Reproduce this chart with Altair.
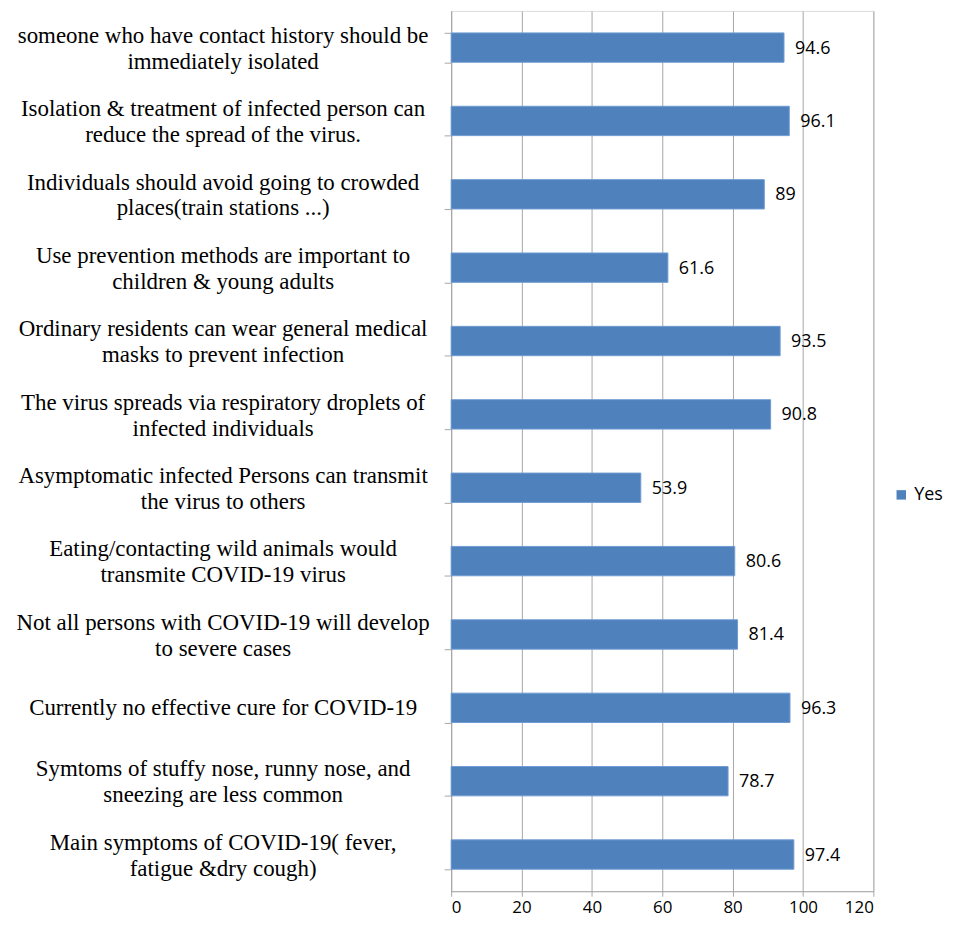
import altair as alt
import pandas as pd

categories = [
    "someone who have contact history should be|immediately isolated",
    "Isolation & treatment of infected person can |reduce the spread of the virus.",
    "Individuals should avoid going to crowded|places(train stations ...)",
    "Use prevention methods are important to|children & young adults",
    "Ordinary residents can wear general medical |masks to prevent infection",
    "The virus spreads via respiratory droplets of|infected individuals",
    "Asymptomatic infected Persons can transmit |the virus to others",
    "Eating/contacting wild animals would|transmite COVID-19 virus",
    "Not all persons with COVID-19 will develop|to severe cases",
    "Currently no effective cure for COVID-19 ",
    "Symtoms of stuffy nose, runny nose, and|sneezing are less common",
    "Main  symptoms of COVID-19( fever,|fatigue &dry cough)",
]
values = [94.6, 96.1, 89, 61.6, 93.5, 90.8, 53.9, 80.6, 81.4, 96.3, 78.7, 97.4]
series = ["Yes"] * len(values)
x_ticks = [0, 20, 40, 60, 80, 100, 120]

df = pd.DataFrame({"item": categories, "value": values, "series": series})

grey = "#a6a6a6"
LINE_H = 26

y_enc = alt.Y(
    "item:N",
    sort=categories,
    title=None,
    scale=alt.Scale(paddingInner=0.6, paddingOuter=0.3),
    axis=alt.Axis(
        labels=False,
        tickBand="extent",
        tickSize=7,
        tickColor=grey,
        domainColor=grey,
        grid=False,
    ),
)

x_enc = alt.X(
    "value:Q",
    title=None,
    scale=alt.Scale(domain=[0, 120], nice=False),
    axis=alt.Axis(
        values=x_ticks,
        labelFont="Open Sans",
        labelFontSize=17,
        labelColor="black",
        labelPadding=3,
        tickSize=5,
        tickColor=grey,
        domainColor=grey,
        gridColor=grey,
        grid=True,
    ),
)

bars = alt.Chart(df).mark_bar(stroke="#6f9bd3", strokeWidth=1).encode(
    y=y_enc,
    x=x_enc,
    color=alt.Color(
        "series:N",
        scale=alt.Scale(range=["#4f81bd"]),
        legend=alt.Legend(
            title=None,
            orient="none",
            legendX=443,
            legendY=477,
            symbolType="square",
            symbolSize=90,
            symbolStrokeWidth=0,
            labelFont="Open Sans",
            labelFontSize=18,
            labelColor="black",
        ),
    ),
)

labels = alt.Chart(df).mark_text(
    align="left", baseline="middle", dx=11, dy=1,
    font="Open Sans", fontSize=18, color="black"
).encode(
    y=alt.Y("item:N", sort=categories),
    x=alt.X("value:Q"),
    text=alt.Text("value:Q"),
)

cat_labels = alt.Chart(df).transform_calculate(
    off="indexof(datum.item, '|') >= 0 ? 3 : 15"
).mark_text(
    align="center", baseline="middle", lineBreak="|", lineHeight=LINE_H,
    font="Liberation Serif", fontSize=23, color="black"
).encode(
    y=alt.Y("item:N", sort=categories),
    yOffset=alt.YOffset("off:Q", scale=None),
    x=alt.value(-229),
    text="item:N",
)

chart = (
    alt.layer(bars, labels, cat_labels)
    .properties(
        width=424,
        height=884,
        autosize="none",
        padding={"left": 445, "top": 1, "right": 90, "bottom": 30},
    )
    .configure_view(stroke=None)
    .configure(background="white")
)

chart.save("out.html", embed_options={"renderer": "svg", "actions": False})
